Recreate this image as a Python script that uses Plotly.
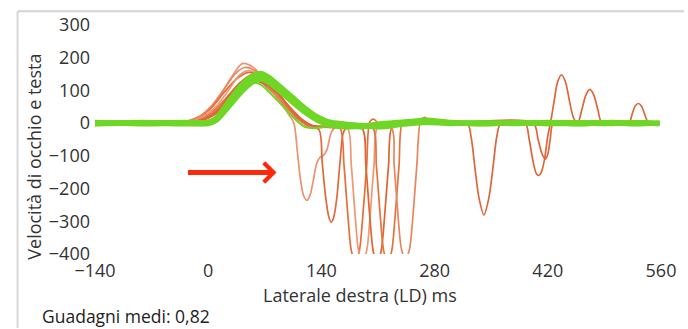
import plotly.graph_objects as go

# ---------------- data ----------------
x_ticks = [-140, 0, 140, 280, 420, 560]
y_ticks = [-400, -300, -200, -100, 0, 100, 200, 300]

# green traces share one time grid (ms)
t_green = [-140, -80, -30, 0, 10, 25, 40, 55, 65, 75, 90, 105, 120, 135, 150,
           170, 190, 210, 230, 250, 270, 300, 340, 380, 420, 460, 500, 530, 558]
green_1 = [0, 3, 0, 0, 10, 55, 100, 134, 142, 130, 100, 68, 40, 14, -2, -8, -10, -6, -4, 0, 4, 0, -2, 2, 0, -3, 1, 0, -2]
green_2 = [-3, 0, 3, 3, 14, 62, 110, 142, 150, 138, 106, 74, 44, 16, 0, -6, -12, -8, -2, 2, 6, 2, 0, 0, 3, 0, -2, 2, 0]
green_3 = [3, -3, 0, 1, 8, 48, 92, 125, 134, 124, 94, 62, 32, 8, -4, -10, -8, -4, 0, 4, 8, 2, -3, 0, -2, 2, 0, -3, 0]
green_4 = [0, 0, -3, 0, 12, 58, 104, 137, 144, 132, 102, 70, 40, 18, 2, -4, -6, -10, -6, -2, 2, -2, 2, -2, 2, 0, 0, 2, -2]
green_5 = [-2, 2, 0, -2, 9, 52, 96, 128, 136, 126, 96, 64, 34, 10, -6, -12, -10, -2, 2, 6, 10, 3, 0, 2, -2, 0, 3, 0, 1]
green_6 = [2, 0, 2, 3, 16, 66, 114, 145, 153, 141, 110, 78, 46, 20, 4, -2, -8, -12, -8, 0, 3, 0, -1, 0, 1, -2, 0, 1, -1]
green_7 = [0, 1, -1, 0, 11, 56, 100, 130, 138, 128, 97, 65, 35, 11, -3, -9, -11, -7, -3, 1, 5, 1, 1, -1, 0, 2, -1, 0, 0]
green_8 = [0, 0, 0, 0, 12, 58, 100, 122, 118, 96, 58, 18, -12, -15, -8, -6, -4, -2, 0, 0, 0, 0, 0, 0, 0, 0, 0, 0, 0]
green_series = [green_1, green_2, green_3, green_4, green_5, green_6, green_7, green_8]

# orange traces: own time points (ms) and velocities
orange_1_t = [-140, -60, -35, -15, 0, 15, 30, 42, 55, 70, 85, 100, 106, 110, 114, 118, 122, 126, 130, 134, 138, 142, 147, 152, 158, 175, 200, 240, 300, 555]
orange_1_v = [0, 0, 2, 15, 38, 85, 145, 182, 172, 130, 80, 25, 0, -80, -170, -222, -236, -220, -175, -125, -105, -100, -80, -30, -12, -10, -7, -3, 0, 0]
orange_2_t = [-140, -50, -30, -10, 5, 20, 35, 50, 65, 80, 95, 110, 125, 137, 141, 145, 149, 152, 155, 159, 163, 167, 172, 200, 240, 300, 555]
orange_2_v = [0, 0, 3, 20, 50, 95, 135, 155, 145, 110, 60, 15, -10, -20, -120, -220, -285, -303, -290, -230, -120, -30, -12, -8, -4, 0, 0]
orange_3_t = [-140, -45, -25, -5, 10, 25, 40, 52, 65, 80, 95, 110, 125, 150, 163, 168, 173, 177, 182, 187, 191, 196, 200, 205, 212, 240, 300, 555]
orange_3_v = [0, 0, 3, 18, 45, 85, 125, 145, 138, 105, 60, 20, -8, -12, -15, -130, -290, -390, -425, -390, -290, -130, 5, 12, -4, -3, 0, 0]
orange_4_t = [-140, -45, -25, -5, 10, 25, 38, 48, 62, 78, 95, 110, 125, 150, 172, 177, 182, 186, 191, 196, 200, 205, 210, 230, 260, 300, 555]
orange_4_v = [0, 0, 4, 22, 52, 100, 145, 160, 150, 112, 62, 18, -8, -12, -15, -130, -290, -390, -420, -390, -290, -130, -10, -7, -2, 0, 0]
orange_5_t = [-140, -40, -20, 0, 15, 30, 45, 55, 68, 82, 97, 112, 128, 160, 190, 195, 200, 204, 209, 214, 218, 223, 228, 245, 270, 300, 555]
orange_5_v = [0, 0, 3, 20, 50, 95, 135, 150, 140, 105, 58, 15, -8, -14, -15, -130, -290, -390, -430, -390, -290, -130, -8, -4, 0, 0, 0]
orange_6_t = [-140, -40, -20, 0, 15, 30, 42, 50, 62, 78, 95, 110, 125, 170, 203, 208, 213, 217, 222, 227, 231, 236, 241, 255, 300, 555]
orange_6_v = [0, 0, 2, 18, 45, 88, 125, 138, 130, 98, 55, 15, -8, -12, -12, -130, -290, -390, -425, -390, -290, -130, 5, -2, 0, 0]
orange_7_t = [-140, -50, -30, -10, 5, 20, 33, 45, 58, 72, 88, 103, 118, 160, 225, 230, 235, 239, 244, 249, 253, 258, 263, 268, 274, 300, 555]
orange_7_v = [0, 0, 3, 22, 55, 105, 150, 170, 160, 122, 72, 25, -8, -12, -8, -130, -290, -385, -415, -385, -290, -130, 10, 18, 5, 0, 0]
orange_8_t = [-140, -40, -20, 0, 15, 30, 45, 55, 68, 85, 100, 115, 130, 160, 220, 320, 325, 330, 335, 341, 347, 352, 357, 362,
              392, 397, 402, 406, 409, 412, 416, 420, 424, 428, 432, 437, 442, 447, 452, 457, 462, 467, 472, 477, 482, 487,
              520, 524, 528, 532, 536, 540, 545, 555]
orange_8_v = [0, 0, 2, 15, 40, 80, 118, 130, 122, 92, 50, 12, -8, -8, -4, 0, -40, -140, -230, -281, -230, -140, -40, 0,
              0, -50, -120, -155, -160, -150, -110, -40, 10, 70, 125, 148, 125, 65, 15, 0, 40, 85, 103, 85, 40, 2,
              0, 25, 52, 60, 52, 25, 0, 0]
orange_9_t = [-140, -40, -20, 0, 15, 30, 45, 55, 68, 85, 100, 115, 130, 160, 200, 250, 300, 402, 408, 413, 417, 420, 423, 427, 460, 555]
orange_9_v = [0, 0, 2, 17, 44, 86, 124, 136, 126, 95, 52, 14, -8, -8, -6, -2, 0, 0, -50, -95, -110, -95, -50, 0, 0, 0]

orange_series = [
    (orange_1_t, orange_1_v, "#ec936f"),
    (orange_2_t, orange_2_v, "#e2683a"),
    (orange_3_t, orange_3_v, "#e66e3a"),
    (orange_4_t, orange_4_v, "#ee9874"),
    (orange_5_t, orange_5_v, "#e06432"),
    (orange_6_t, orange_6_v, "#e6723c"),
    (orange_7_t, orange_7_v, "#e9855c"),
    (orange_8_t, orange_8_v, "#e0653a"),
    (orange_9_t, orange_9_v, "#e0653a"),
]

x_title = "Laterale destra (LD) ms"
y_title = "Velocità di occhio e testa"
footer = "Guadagni medi: 0,82"

# ---------------- layout geometry ----------------
W, H = 688, 329
ML, MR, MT, MB = 95, 23, 22, 75
PW, PH = W - ML - MR, H - MT - MB


def px(xp):
    return (xp - ML) / PW


def py(yp):
    return (H - MB - yp) / PH


FONT = "Open Sans"

fig = go.Figure()

for t, v, c in orange_series:
    fig.add_trace(go.Scatter(x=t, y=v, mode="lines",
                             line=dict(color=c, width=1.7, shape="spline", smoothing=0.8),
                             hoverinfo="skip", showlegend=False))

for i, g in enumerate(green_series):
    w = 2.0 if i == len(green_series) - 1 else 4.8
    fig.add_trace(go.Scatter(x=t_green, y=g, mode="lines",
                             line=dict(color="#6fd626", width=w, shape="spline", smoothing=0.7),
                             hoverinfo="skip", showlegend=False))

fig.update_layout(
    width=W, height=H,
    margin=dict(l=ML, r=MR, t=MT, b=MB),
    paper_bgcolor="white", plot_bgcolor="white",
    font=dict(family=FONT, color="#333333", size=18),
    xaxis=dict(range=[-140, 560], tickvals=x_ticks, showgrid=False, zeroline=False,
               showline=False, ticks="", tickfont=dict(size=18, color="#333333"),
               ticklabelstandoff=4),
    yaxis=dict(range=[-400, 300], tickvals=y_ticks, showgrid=False, zeroline=False,
               showline=False, ticks="", tickfont=dict(size=18, color="#333333"),
               ticklabelstandoff=4),
    showlegend=False,
)

annotations = [
    dict(text=y_title, xref="paper", yref="paper", x=px(34), y=py(155), textangle=-90,
         showarrow=False, xanchor="center", yanchor="middle",
         font=dict(size=18, color="#333333", family=FONT)),
    dict(text=x_title, xref="paper", yref="paper", x=px(362), y=py(296),
         showarrow=False, xanchor="center", yanchor="middle",
         font=dict(size=18, color="#333333", family=FONT)),
    dict(text=footer, xref="paper", yref="paper", x=px(40), y=py(317),
         showarrow=False, xanchor="left", yanchor="middle",
         font=dict(size=17.5, color="#222222", family=FONT)),
    dict(text="", x=84.5, y=-151, xref="x", yref="y", ax=-90, ay=0,
         showarrow=True, arrowhead=4, arrowwidth=5, arrowsize=0.75,
         arrowcolor="#fb2a0c", standoff=0),
]
fig.update_layout(annotations=annotations)

# frame lines (light grey panel border)
fig.add_shape(type="line", xref="paper", yref="paper", x0=px(17), x1=px(688), y0=py(8), y1=py(8),
              line=dict(color="#d2d2d2", width=2))
fig.add_shape(type="line", xref="paper", yref="paper", x0=px(17), x1=px(17), y0=py(8), y1=py(329),
              line=dict(color="#d8d8d8", width=2))

fig.write_html("out.html")
